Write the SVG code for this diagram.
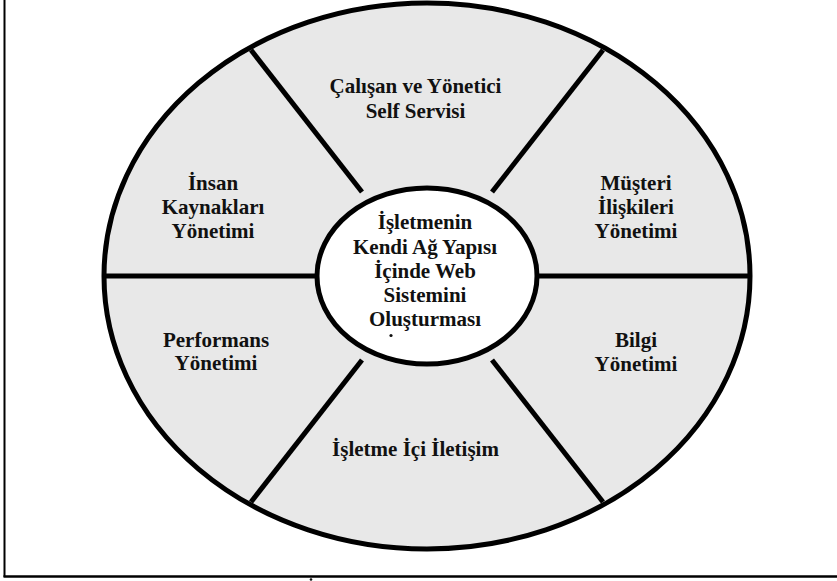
<svg xmlns="http://www.w3.org/2000/svg" width="837" height="581" viewBox="0 0 837 581">
<style>
.t{font-family:"Liberation Serif","Times New Roman",serif;font-weight:bold;font-size:21px;fill:#111;text-anchor:middle}
.sp{stroke:#000;stroke-width:5;fill:none}
</style>
<rect width="837" height="581" fill="#fff"/>
<g id="frame">
<line x1="4.5" y1="0" x2="4.5" y2="577" stroke="#000" stroke-width="2"/>
<line x1="3.5" y1="576.5" x2="837" y2="576.5" stroke="#000" stroke-width="2.5"/>
</g>
<g id="outer">
<ellipse cx="427" cy="276" rx="323" ry="273" fill="#e8e8e8" stroke="#000" stroke-width="5"/>
</g>
<g id="connectors">
<line class="sp" x1="104" y1="276" x2="317" y2="276"/>
<line class="sp" x1="537" y1="276" x2="750" y2="276"/>
<line class="sp" x1="251" y1="50" x2="362" y2="192"/>
<line class="sp" x1="603" y1="50" x2="492" y2="192"/>
<line class="sp" x1="251" y1="502" x2="362" y2="360"/>
<line class="sp" x1="603" y1="502" x2="492" y2="360"/>
</g>
<g id="center">
<ellipse cx="427" cy="276" rx="110" ry="88" fill="#fff" stroke="#000" stroke-width="5"/>
<text class="t" x="425" y="229">İşletmenin</text>
<text class="t" x="425" y="253.5">Kendi Ağ Yapısı</text>
<text class="t" x="425" y="277.5">İçinde Web</text>
<text class="t" x="425" y="301.5">Sistemini</text>
<text class="t" x="425" y="326">Oluşturması</text>
<circle cx="391" cy="335.5" r="1.6" fill="#111"/>
</g>
<g id="n-top">
<text class="t" x="415.5" y="93">Çalışan ve Yönetici</text>
<text class="t" x="415.5" y="118">Self Servisi</text>
</g>
<g id="n-right-top">
<text class="t" x="636" y="190">Müşteri</text>
<text class="t" x="636" y="214">İlişkileri</text>
<text class="t" x="636" y="238">Yönetimi</text>
</g>
<g id="n-right-bottom">
<text class="t" x="636" y="347">Bilgi</text>
<text class="t" x="636" y="371">Yönetimi</text>
</g>
<g id="n-bottom">
<text class="t" x="415.5" y="456">İşletme İçi İletişim</text>
</g>
<g id="n-left-bottom">
<text class="t" x="216" y="346.5">Performans</text>
<text class="t" x="216" y="370">Yönetimi</text>
</g>
<g id="n-left-top">
<text class="t" x="213" y="190">İnsan</text>
<text class="t" x="213" y="214">Kaynakları</text>
<text class="t" x="213" y="238">Yönetimi</text>
</g>
<g id="cut">
<circle cx="311" cy="579.5" r="1.3" fill="#111"/>
</g>
</svg>
